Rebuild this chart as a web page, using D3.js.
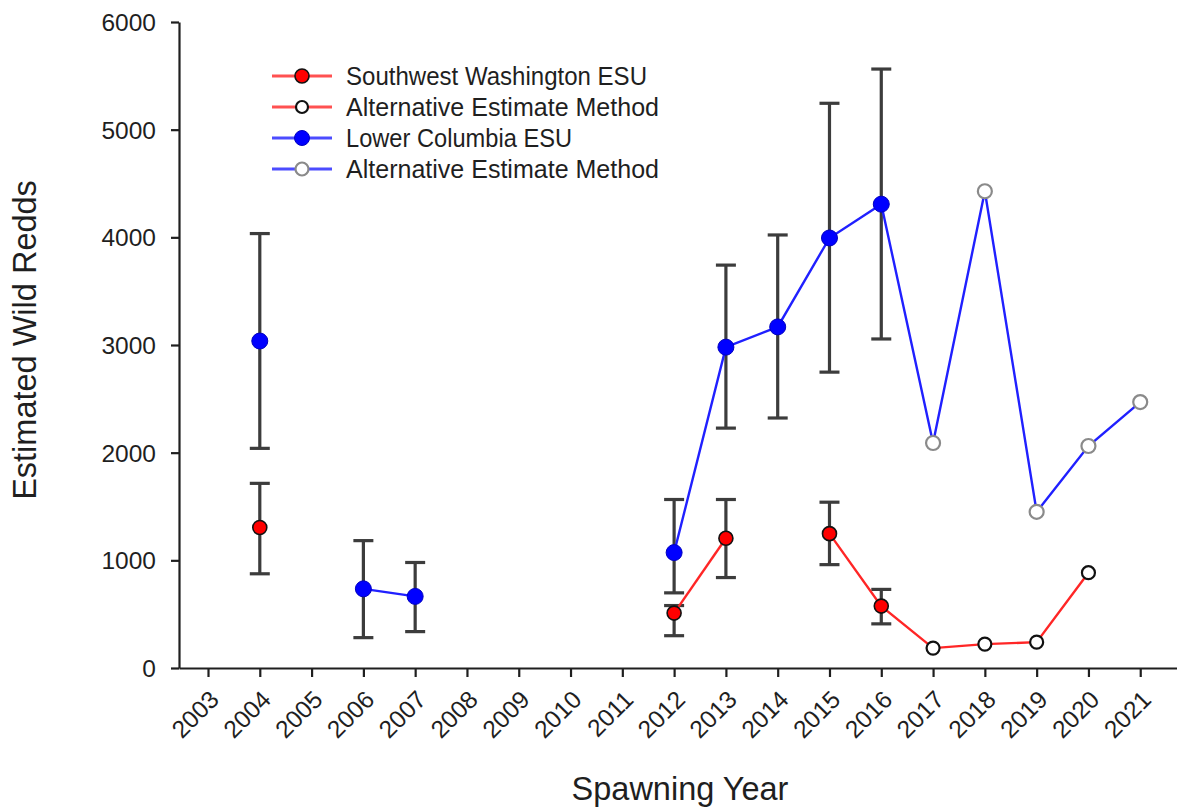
<!DOCTYPE html>
<html>
<head>
<meta charset="utf-8">
<script src="https://cdn.jsdelivr.net/npm/d3@7"></script>
<style>
  html, body { margin: 0; padding: 0; background: #fff; }
  svg { display: block; font-family: Arial, "Liberation Sans", sans-serif; }
</style>
</head>
<body>
<svg id="chart" width="1177" height="810"></svg>
<script>
// Spawning years on the x axis
const years = [2003, 2004, 2005, 2006, 2007, 2008, 2009, 2010, 2011, 2012,
               2013, 2014, 2015, 2016, 2017, 2018, 2019, 2020, 2021];
const yTicks = [0, 1000, 2000, 3000, 4000, 5000, 6000];

// Southwest Washington ESU: primary estimates with intervals (null = no estimate)
const swYears  = [2004, 2012, 2013, 2014, 2015, 2016];
const swValues = [1305, 510, 1205, null, 1248, 575];
const swLower  = [875, 300, 840, null, 960, 410];
const swUpper  = [1715, 580, 1565, null, 1540, 730];
// Southwest Washington ESU: alternative estimate method
const swAltYears  = [2017, 2018, 2019, 2020];
const swAltValues = [185, 222, 240, 885];

// Lower Columbia ESU: primary estimates with intervals
const lcYears  = [2004, 2006, 2007, 2012, 2013, 2014, 2015, 2016];
const lcValues = [3037, 735, 665, 1072, 2980, 3168, 3994, 4308];
const lcLower  = [2040, 282, 338, 698, 2228, 2322, 2748, 3056];
const lcUpper  = [4035, 1183, 980, 1565, 3742, 4022, 5245, 5563];
// Lower Columbia ESU: alternative estimate method
const lcAltYears  = [2017, 2018, 2019, 2020, 2021];
const lcAltValues = [2090, 4428, 1450, 2062, 2470];

const legendLabels = ["Southwest Washington ESU", "Alternative Estimate Method",
                      "Lower Columbia ESU", "Alternative Estimate Method"];

const svg = d3.select("#chart");
const axisX = 179, axisY = 668;

const x = d3.scaleLinear().domain([2002.44, 2021.71]).range([179, 1177]);
const y = d3.scaleLinear().domain([0, 6000]).range([668, 22]);

const ink = "#1f1f1f";
const errColor = "#3c3c3c";
const red = "#ff2626", blue = "#2020ff";

// ---- axes ----
const xAxis = svg.append("g")
  .attr("transform", `translate(0,${axisY})`)
  .call(d3.axisBottom(x).tickValues(years).tickFormat(d3.format("d"))
        .tickSize(9).tickSizeOuter(0));
xAxis.select(".domain").attr("stroke", ink).attr("stroke-width", 2.2);
xAxis.selectAll(".tick line").attr("stroke", ink).attr("stroke-width", 2.2);
xAxis.selectAll(".tick text")
  .attr("fill", ink)
  .attr("font-size", 24.5)
  .attr("text-anchor", "end")
  .attr("dy", null).attr("y", null)
  .attr("transform", "translate(12,33) rotate(-45)");

const yAxis = svg.append("g")
  .attr("transform", `translate(${axisX},0)`)
  .call(d3.axisLeft(y).tickValues(yTicks).tickFormat(d3.format("d"))
        .tickSize(8).tickSizeOuter(0));
yAxis.select(".domain").attr("stroke", ink).attr("stroke-width", 2.2);
yAxis.selectAll(".tick line").attr("stroke", ink).attr("stroke-width", 2.2);
yAxis.selectAll(".tick text")
  .attr("fill", ink)
  .attr("font-size", 24.5)
  .attr("x", -23)
  .attr("dy", "0.35em");

// axis titles
svg.append("text")
  .attr("x", 680).attr("y", 800)
  .attr("text-anchor", "middle")
  .attr("font-size", 32.5).attr("fill", ink)
  .text("Spawning Year");
svg.append("text")
  .attr("transform", "translate(36,340) rotate(-90)")
  .attr("text-anchor", "middle")
  .attr("font-size", 32.5).attr("fill", ink)
  .text("Estimated Wild Redds");

// ---- helpers ----
function errorBars(yrs, lo, hi) {
  const g = svg.append("g").attr("stroke", errColor).attr("stroke-width", 3.2).attr("fill", "none");
  yrs.forEach((yr, i) => {
    if (lo[i] == null) return;
    const cx = x(yr), cap = 10;
    g.append("line").attr("x1", cx).attr("x2", cx).attr("y1", y(lo[i])).attr("y2", y(hi[i]));
    g.append("line").attr("x1", cx - cap).attr("x2", cx + cap).attr("y1", y(lo[i])).attr("y2", y(lo[i]));
    g.append("line").attr("x1", cx - cap).attr("x2", cx + cap).attr("y1", y(hi[i])).attr("y2", y(hi[i]));
  });
}

// consecutive years are joined; gaps of more than one year break the line
function seriesLine(pts, color) {
  const segs = [];
  let cur = [];
  pts.forEach(p => {
    if (p.v == null) { if (cur.length) segs.push(cur); cur = []; return; }
    if (cur.length && p.yr - cur[cur.length - 1].yr > 1) { segs.push(cur); cur = []; }
    cur.push(p);
  });
  if (cur.length) segs.push(cur);
  const line = d3.line().x(d => x(d.yr)).y(d => y(d.v));
  segs.filter(s => s.length > 1).forEach(s => {
    svg.append("path").attr("d", line(s)).attr("fill", "none")
      .attr("stroke", color).attr("stroke-width", 2.4);
  });
}

function markers(yrs, vals, fill, stroke, r, sw) {
  svg.append("g").selectAll("circle")
    .data(yrs.map((yr, i) => ({ yr, v: vals[i] })).filter(d => d.v != null))
    .join("circle")
    .attr("cx", d => x(d.yr)).attr("cy", d => y(d.v)).attr("r", r)
    .attr("fill", fill).attr("stroke", stroke).attr("stroke-width", sw);
}

// ---- series ----
const swAll = swYears.map((yr, i) => ({ yr, v: swValues[i] }))
  .concat(swAltYears.map((yr, i) => ({ yr, v: swAltValues[i] })));
const lcAll = lcYears.map((yr, i) => ({ yr, v: lcValues[i] }))
  .concat(lcAltYears.map((yr, i) => ({ yr, v: lcAltValues[i] })));

errorBars(swYears, swLower, swUpper);
errorBars(lcYears, lcLower, lcUpper);

seriesLine(swAll, red);
seriesLine(lcAll, blue);

markers(swYears, swValues, "#ff0000", "#111", 7, 1.6);
markers(swAltYears, swAltValues, "#fff", "#111", 6.5, 2.2);
markers(lcYears, lcValues, "#0000ff", "#0000c0", 8, 1);
markers(lcAltYears, lcAltValues, "#fff", "#8a8a8a", 7, 2.2);

// ---- legend ----
const legendStyles = [
  { line: red,  fill: "#ff0000", stroke: "#111",    r: 7,   sw: 1.6 },
  { line: red,  fill: "#fff",    stroke: "#111",    r: 6,   sw: 2.2 },
  { line: blue, fill: "#0000ff", stroke: "#0000c0", r: 7.5, sw: 1 },
  { line: blue, fill: "#fff",    stroke: "#8a8a8a", r: 6.5, sw: 2.2 }
];
const legendWidths = [301, 313, 226, 313];
const legend = svg.append("g").attr("transform", "translate(272,76)");
legendLabels.forEach((lab, i) => {
  const st = legendStyles[i];
  const row = legend.append("g").attr("transform", `translate(0,${i * 31})`);
  row.append("line").attr("x1", 0).attr("x2", 60).attr("y1", 0).attr("y2", 0)
    .attr("stroke", st.line).attr("stroke-width", 2.8).attr("opacity", 0.8);
  row.append("circle").attr("cx", 30).attr("cy", 0).attr("r", st.r)
    .attr("fill", st.fill).attr("stroke", st.stroke).attr("stroke-width", st.sw);
  row.append("text").attr("x", 74).attr("y", 0).attr("dy", "0.35em")
    .attr("font-size", 25).attr("fill", ink)
    .attr("textLength", legendWidths[i])
    .attr("lengthAdjust", "spacingAndGlyphs")
    .text(lab);
});
</script>
</body>
</html>
